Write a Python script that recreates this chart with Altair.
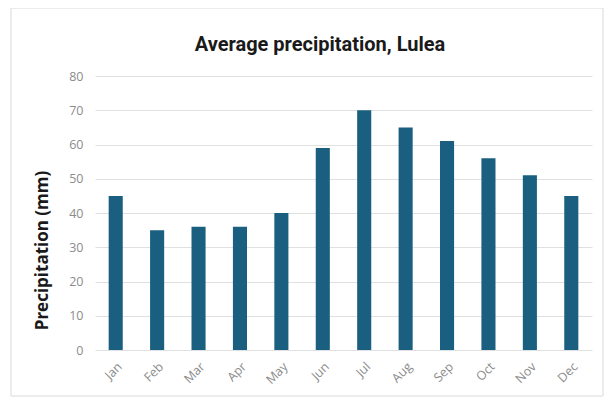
import altair as alt
import pandas as pd

months = ["Jan", "Feb", "Mar", "Apr", "May", "Jun", "Jul", "Aug", "Sep", "Oct", "Nov", "Dec"]
precip = [45, 35, 36, 36, 40, 59, 70, 65, 61, 56, 51, 45]
y_ticks = [0, 10, 20, 30, 40, 50, 60, 70, 80]
title_text = ["Average precipitation, Lulea"]

df = pd.DataFrame({"month": months, "precip": precip})

W, H = 497, 274

frame = alt.Chart(pd.DataFrame({"a": [0]})).mark_rect(
    fill=None, stroke="#d9d9d9", strokeWidth=1
).encode(
    x=alt.value(-84), x2=alt.value(508), y=alt.value(-68), y2=alt.value(320)
)

title = alt.Chart(pd.DataFrame({"t": title_text})).mark_text(
    font="Roboto", fontSize=20, fontWeight="bold", color="#1a1a1a",
    align="center", baseline="alphabetic"
).encode(text="t:N", x=alt.value(225), y=alt.value(-25))

bars = alt.Chart(df).mark_bar(color="#1a5f80").encode(
    x=alt.X("month:N", sort=months,
            scale=alt.Scale(paddingInner=0.66, paddingOuter=0.33),
            axis=alt.Axis(title=None, labelAngle=-45, labelColor="#8c8c8c",
                          labelFontSize=12.5, labelFont="Open Sans",
                          ticks=False, domain=False, labelPadding=10)),
    y=alt.Y("precip:Q", scale=alt.Scale(domain=[0, 80]),
            axis=alt.Axis(title="Precipitation (mm)", values=y_ticks,
                          titleFont="Open Sans", titleFontSize=17, titleFontWeight="bold",
                          titleColor="#1a1a1a", titlePadding=17, titleY=174,
                          labelColor="#8c8c8c", labelFontSize=12.5, labelFont="Open Sans",
                          labelPadding=12,
                          ticks=False, domain=False, gridColor="#e0e0e0")),
)

chart = alt.layer(frame, bars, title).properties(
    width=W, height=H,
    padding={"left": 87, "top": 68, "right": 12, "bottom": 60},
    autosize="none",
).configure(background="white").configure_view(stroke=None)

chart.save("out.html", embed_options={"renderer": "svg", "actions": False})
